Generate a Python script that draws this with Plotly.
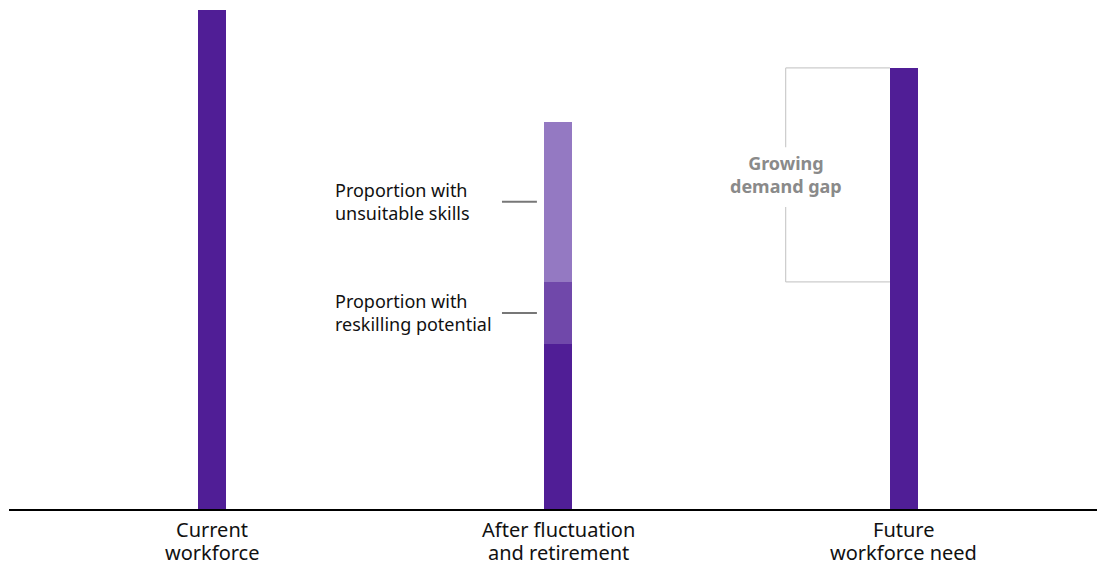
import plotly.graph_objects as go

categories = ["Current<br>workforce", "After fluctuation<br>and retirement", "Future<br>workforce need"]
x_pos = [0, 1, 2]
base_values = [100, 33.1, 88.4]
reskill_values = [0, 12.4, 0]
unsuitable_values = [0, 32.1, 0]

DARK = "#501E96"
MID = "#7048AA"
LIGHT = "#9479C2"
FONT = "Noto Sans"
BW = 0.081

fig = go.Figure()
fig.add_bar(x=x_pos, y=base_values, marker_color=DARK, width=BW, marker_line_width=0, hoverinfo="skip")
fig.add_bar(x=x_pos, y=reskill_values, marker_color=MID, width=BW, marker_line_width=0, hoverinfo="skip")
fig.add_bar(x=x_pos, y=unsuitable_values, marker_color=LIGHT, width=BW, marker_line_width=0, hoverinfo="skip")

mid_unsuit = base_values[1] + reskill_values[1] + unsuitable_values[1] / 2
mid_reskill = base_values[1] + reskill_values[1] / 2
gap_low = base_values[1] + reskill_values[1]
gap_high = base_values[2]

shapes = []
for yv in (mid_unsuit, mid_reskill):
    shapes.append(dict(type="line", xref="x", yref="y", x0=0.838, x1=0.939, y0=yv, y1=yv,
                       line=dict(color="#777777", width=2)))
# bracket
bx = 1.658
bxr = 2 - BW / 2
gc = "#CCCCCC"
shapes += [
    dict(type="line", xref="x", yref="y", x0=bx, x1=bxr, y0=gap_high, y1=gap_high, line=dict(color=gc, width=1.2)),
    dict(type="line", xref="x", yref="y", x0=bx, x1=bxr, y0=gap_low, y1=gap_low, line=dict(color=gc, width=1.2)),
    dict(type="line", xref="x", yref="y", x0=bx, x1=bx, y0=gap_high, y1=72.5, line=dict(color=gc, width=1.2)),
    dict(type="line", xref="x", yref="y", x0=bx, x1=bx, y0=60.5, y1=gap_low, line=dict(color=gc, width=1.2)),
]

annotations = [
    dict(x=0.35, y=mid_unsuit, xref="x", yref="y", text="Proportion with<br>unsuitable skills",
         showarrow=False, xanchor="left", yanchor="middle", align="left",
         font=dict(family=FONT, size=18, color="#111111")),
    dict(x=0.35, y=mid_reskill, xref="x", yref="y", text="Proportion with<br>reskilling potential",
         showarrow=False, xanchor="left", yanchor="middle", align="left",
         font=dict(family=FONT, size=18, color="#111111")),
    dict(x=bx, y=(gap_low + gap_high) / 2, xref="x", yref="y", text="<b>Growing<br>demand gap</b>",
         showarrow=False, xanchor="center", yanchor="middle", align="center",
         font=dict(family=FONT, size=18, color="#8A8A8A")),
]

# category labels below the axis, one annotation per line for tight line spacing
for xv, label in zip(x_pos, categories):
    for i, line in enumerate(label.split("<br>")):
        annotations.append(dict(x=xv, y=0, xref="x", yref="paper", text=line, showarrow=False,
                                xanchor="center", yanchor="middle", yshift=-20 - 23 * i,
                                borderpad=0,
                                font=dict(family=FONT, size=20, color="#111111")))

fig.update_layout(
    barmode="stack",
    width=1097, height=565,
    margin=dict(l=9, r=0, t=10, b=56),
    plot_bgcolor="white", paper_bgcolor="white",
    showlegend=False,
    bargap=0,
    shapes=shapes,
    annotations=annotations,
    font=dict(family=FONT),
)
fig.update_xaxes(range=[-0.587, 2.558], showticklabels=False,
                 showgrid=False, zeroline=False, showline=True, linecolor="black", linewidth=2,
                 ticks="")
fig.update_yaxes(range=[0, 100], visible=False, showgrid=False, zeroline=False)

fig.write_html("out.html", config={"displayModeBar": False},
               post_script="document.body.style.margin='0';document.body.style.overflow='hidden';")
